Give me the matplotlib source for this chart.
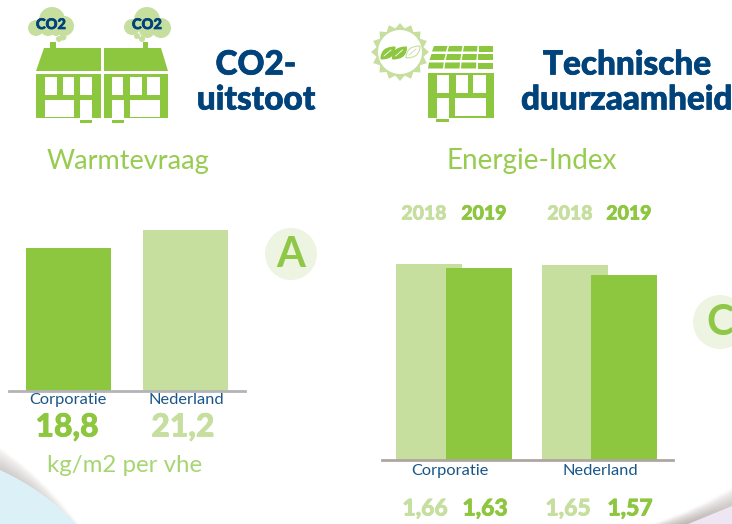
import matplotlib
matplotlib.use("Agg")
import matplotlib.pyplot as plt
import numpy as np
import matplotlib.patheffects as pe
from matplotlib.patches import Circle, PathPatch, Polygon, Rectangle
from matplotlib.path import Path

plt.rcParams['font.family'] = ['Lato', 'DejaVu Sans']

# data
warmte_labels = ['Corporatie', 'Nederland']
warmte_values = [18.8, 21.2]
warmte_text = ['18,8', '21,2']
energie_labels = ['Corporatie', 'Nederland']
energie_2018 = [1.66, 1.65]
energie_2019 = [1.63, 1.57]
energie_text_2018 = ['1,66', '1,65']
energie_text_2019 = ['1,63', '1,57']
years = ['2018', '2019']

GREEN = '#8dc63f'
LIGHT = '#c6df9f'
NAVY = '#00437b'
W, H = 732, 524

fig = plt.figure(figsize=(W / 100, H / 100), dpi=100)
bg = fig.add_axes([0, 0, 1, 1])
bg.set_xlim(0, W)
bg.set_ylim(H, 0)
bg.axis('off')


def pix_axes(x0, x1, y_top, y_base):
    # axes placed by reference pixels
    return fig.add_axes([x0 / W, 1 - y_base / H, (x1 - x0) / W, (y_base - y_top) / H])


def rect(x0, y0, x1, y1, color=GREEN, z=3):
    bg.add_patch(Rectangle((x0, y0), x1 - x0, y1 - y0, fc=color, ec='none', zorder=z))


def poly(pts, color=GREEN, z=3):
    bg.add_patch(Polygon(pts, closed=True, fc=color, ec='none', zorder=z))


def curve(p0, ctrl, p1, color, lw, alpha=1.0):
    path = Path([p0, ctrl, p1], [Path.MOVETO, Path.CURVE3, Path.CURVE3])
    bg.add_patch(PathPatch(path, fc='none', ec=color, lw=lw, alpha=alpha, zorder=1, capstyle='butt'))


def leaf(cx, cy, fc, ec):
    # pointed leaf, tip to the upper right
    tip, base = (cx + 7, cy - 6), (cx - 7, cy + 6)
    path = Path([base, (cx - 7, cy - 6), tip, (cx + 7, cy + 6), base],
                [Path.MOVETO, Path.CURVE3, Path.CURVE3, Path.CURVE3, Path.CURVE3])
    bg.add_patch(PathPatch(path, fc=fc, ec=ec, lw=0.8, zorder=5))
    bg.plot([cx - 4, cx + 3], [cy + 3, cy - 3], color='white' if fc != 'white' else LIGHT, lw=0.6, zorder=6)


def heavy(x, y, txt, color, size, z=5):
    # Lato black with a thin stroke, the original face is a bit fatter
    t = bg.text(x, y, txt, color=color, fontsize=size, fontweight='black', ha='center', va='center', zorder=z)
    t.set_path_effects([pe.withStroke(linewidth=0.5, foreground=color)])


# page curl in the corners
for i in range(14):
    curve((-20, 438 + i * 2.2), (40, 470 + i * 2), (92 - i * 2.2, 545), '#a89f9c', 2.6, 0.05 + i * 0.028)
bg.add_patch(PathPatch(Path([(0, 470), (44, 490), (76, 524), (0, 524), (0, 470)],
                            [Path.MOVETO, Path.CURVE3, Path.CURVE3, Path.LINETO, Path.CLOSEPOLY]),
                       fc='#dcf0f7', ec='none', zorder=2))
for i in range(12):
    curve((650 + i * 3, 526), (700, 510 + i), (740, 484 + i * 2), '#b5adaa', 2.4, 0.04 + i * 0.04)
poly([(688, 524), (732, 506), (732, 524)], '#eee6f2', 2)

# left house
poly([(44, 48), (101, 48), (101, 71), (36, 71)])
poly([(104, 48), (161, 48), (168, 71), (104, 71)])
rect(36, 74, 101, 118)
rect(104, 74, 168, 118)
for x0, x1 in [(45, 57), (63, 74), (80, 92), (112, 123), (130, 142), (147, 160)]:
    rect(x0, 77, x1, 95, 'white', 4)
rect(45, 100, 74, 117, 'white', 4)
rect(80, 100, 92, 119, 'white', 4)
rect(112, 100, 124, 119, 'white', 4)
rect(130, 100, 160, 117, 'white', 4)
rect(80, 120, 92, 123)
rect(112, 120, 124, 123)
rect(50, 42, 56, 48)
rect(143, 42, 148, 48)

# clouds
for cx, cy, r in [(52, 20, 13), (36, 28, 8), (64, 26, 10), (48, 28, 8), (56, 31, 5), (59, 39, 3), (63, 37, 3.5),
                  (147, 20, 13), (132, 27, 8), (161, 28, 10), (147, 30, 8), (137, 36, 3), (142, 39, 3)]:
    bg.add_patch(Circle((cx, cy), r, fc=LIGHT, ec='none', zorder=3))
heavy(51, 25, 'CO2', NAVY, 10.5)
heavy(147, 25, 'CO2', NAVY, 10.5)

# sun with leaves
ang = np.linspace(0, 2 * np.pi, 32, endpoint=False)
rad = np.where(np.arange(32) % 2 == 0, 29, 24)
poly(np.column_stack([400 + rad * np.cos(ang), 52 + rad * np.sin(ang)]), LIGHT)
bg.add_patch(Circle((400, 52), 22, fc='white', ec='none', zorder=4))
leaf(388, 53, GREEN, GREEN)
leaf(399.5, 53, GREEN, GREEN)
leaf(413, 52, 'white', LIGHT)

# solar house
for y0, y1, lx0, lx1 in [(46, 51.5, 434, 432), (54, 60, 431.5, 429.5), (62.5, 68.5, 429, 428)]:
    for col in range(4):
        a0 = lx0 + (494 - lx0) * col / 4
        a1 = lx1 + (494 - lx1) * col / 4
        b0 = lx0 + (494 - lx0) * (col + 1) / 4 - 1.5
        b1 = lx1 + (494 - lx1) * (col + 1) / 4 - 1.5
        poly([(a0, y0), (b0, y0), (b1, y1), (a1, y1)])
rect(428, 73, 494, 118)
for x0, x1 in [(437, 449), (456, 468), (473, 486)]:
    rect(x0, 75, x1, 93, 'white', 4)
rect(437, 98, 449, 119, 'white', 4)
rect(455, 98, 486, 116, 'white', 4)
rect(436, 119, 449, 122)

# headings
for x, y, txt in [(256, 65, 'CO2-'), (256, 100, 'uitstoot'), (627, 65, 'Technische'), (627, 100, 'duurzaamheid')]:
    heavy(x, y, txt, NAVY, 24)
bg.text(128, 162, 'Warmtevraag', color='#97cc50', fontsize=19.5, ha='center', va='center')
bg.text(532, 161, 'Energie-Index', color='#97cc50', fontsize=20, ha='center', va='center')

# left chart, 7.6 px per unit
ax1 = pix_axes(9, 245, 200, 391)
ax1.bar([68.5, 185.5], warmte_values, width=85, color=[GREEN, LIGHT], zorder=2)
ax1.set_xlim(9, 245)
ax1.set_ylim(0, 191 / 7.6)

# right chart, 118 px per unit
ax2 = pix_axes(382, 673, 200, 460)
ax2.bar([429, 575], energie_2018, width=66, color=LIGHT, zorder=2)
ax2.bar([479, 624], energie_2019, width=66, color=GREEN, zorder=3)
ax2.set_xlim(382, 673)
ax2.set_ylim(0, 260 / 118)

for ax, line_color in [(ax1, '#b4b4b8'), (ax2, '#b0a5a0')]:
    ax.patch.set_alpha(0)
    ax.set_yticks([])
    ax.set_xticks([])
    for name in ['top', 'left', 'right']:
        ax.spines[name].set_visible(False)
    ax.spines['bottom'].set_color(line_color)
    ax.spines['bottom'].set_linewidth(2)
    ax.spines['bottom'].set_zorder(5)

# left chart texts
for cx, lab in zip([68, 186], warmte_labels):
    bg.text(cx, 400, lab, color=NAVY, fontsize=11.8, ha='center', va='center', alpha=0.9)
for cx, val, col in zip([67, 183], warmte_text, [GREEN, LIGHT]):
    heavy(cx, 427, val, col, 23)
bg.text(125, 465, 'kg/m2 per vhe', color='#a6d672', fontsize=17.3, ha='center', va='center')

bg.add_patch(Circle((291, 254), 26, fc='#eef4e2', ec='none', zorder=3))
bg.text(291, 255, 'A', color='#8fc846', fontsize=30, fontweight='bold', ha='center', va='center', zorder=4)

# right chart texts
for cx, yr, col in zip([424, 484, 570, 629], years + years, [LIGHT, GREEN, LIGHT, GREEN]):
    heavy(cx, 214, yr, col, 14)
for cx, lab in zip([450, 600], energie_labels):
    bg.text(cx, 471, lab, color=NAVY, fontsize=11.8, ha='center', va='center', alpha=0.9)
for cx, txt in zip([425, 568], energie_text_2018):
    heavy(cx, 509, txt, LIGHT, 16.5)
for cx, txt in zip([485, 630], energie_text_2019):
    heavy(cx, 509, txt, GREEN, 16.5)

bg.add_patch(Circle((720, 322), 27, fc='#eef4e2', ec='none', zorder=3))
bg.text(720, 323, 'C', color='#8fc846', fontsize=30, fontweight='bold', ha='center', va='center', zorder=4)

fig.savefig('out.png', dpi=100)
